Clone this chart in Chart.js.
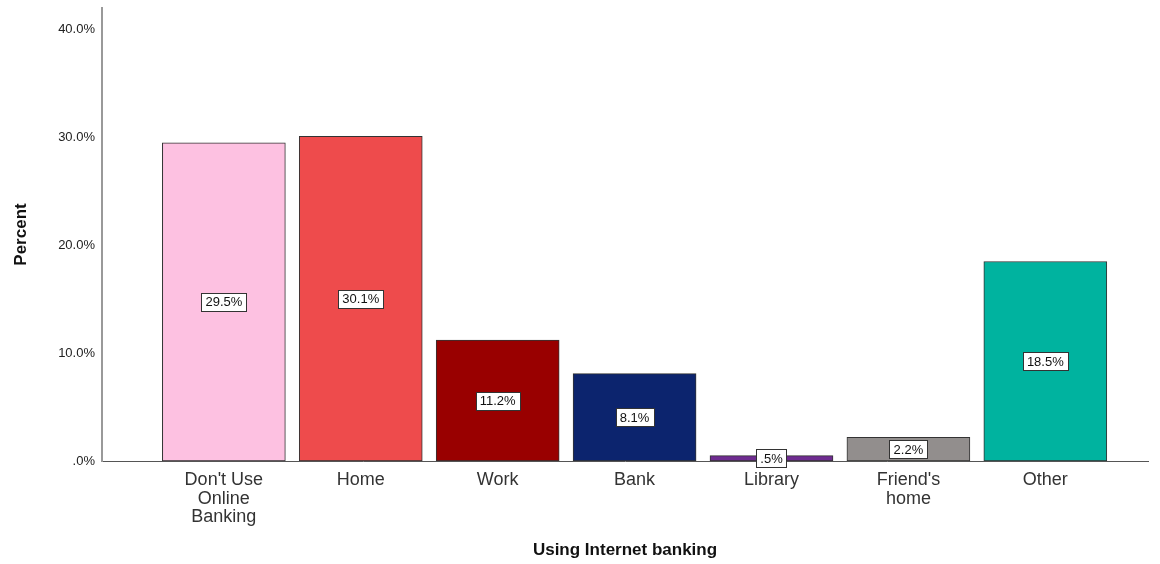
<!DOCTYPE html>
<html lang="en">
<head>
    <meta charset="UTF-8">
    <title>Using Internet banking</title>
    <style>
        body {
            margin: 0;
            background-color: #ffffff;
        }

        #chart-wrap {
            width: 1160px;
            height: 564px;
        }
    </style>
</head>
<body>
    <div id="chart-wrap">
        <canvas id="bank-chart" width="1160" height="564"></canvas>
    </div>

    <script src="https://cdn.jsdelivr.net/npm/chart.js"></script>
    <script>
        const categories = [
            ["Don't Use", 'Online', 'Banking'],
            ['Home'],
            ['Work'],
            ['Bank'],
            ['Library'],
            ["Friend's", 'home'],
            ['Other']
        ];
        const percents = [29.5, 30.1, 11.2, 8.1, 0.5, 2.2, 18.5];
        const barColors = ['#fdc1e1', '#ee4b4c', '#990000', '#0c246e', '#6f2c91', '#928e8d', '#00b39f'];
        const yTicks = [0, 10, 20, 30, 40];

        const fontFamily = '"Liberation Sans", Arial, sans-serif';

        function pctText(v) {
            // SPSS style: drop the leading zero
            let s = v.toFixed(1) + '%';
            if (s.startsWith('0.')) s = s.slice(1);
            return s;
        }

        // white boxed value labels in the middle of each bar
        const valueLabels = {
            id: 'valueLabels',
            afterDatasetsDraw(chart) {
                const ctx = chart.ctx;
                const meta = chart.getDatasetMeta(0);
                ctx.save();
                ctx.font = '13px ' + fontFamily;
                ctx.textAlign = 'center';
                ctx.textBaseline = 'middle';
                meta.data.forEach((bar, i) => {
                    const text = pctText(percents[i]);
                    const cx = bar.x;
                    const cy = (bar.y + bar.base) / 2;
                    const w = Math.round(ctx.measureText(text).width + 8);
                    const h = 18;
                    const bx = Math.round(cx - w / 2);
                    const by = Math.round(cy - h / 2);
                    ctx.fillStyle = '#ffffff';
                    ctx.fillRect(bx, by, w, h);
                    ctx.strokeStyle = '#333333';
                    ctx.lineWidth = 1;
                    ctx.strokeRect(bx + 0.5, by + 0.5, w, h);
                    ctx.fillStyle = '#111111';
                    ctx.fillText(text, cx, cy + 1);
                });
                ctx.restore();
            }
        };

        const ctx = document.getElementById('bank-chart').getContext('2d');
        const chart = new Chart(ctx, {
            type: 'bar',
            data: {
                datasets: [{
                    data: percents.map((v, i) => ({ x: i + 1, y: v })),
                    backgroundColor: barColors,
                    borderColor: '#333333',
                    borderWidth: 1,
                    borderSkipped: false,
                    barThickness: 123
                }]
            },
            options: {
                responsive: false,
                animation: false,
                layout: {
                    padding: { top: 8, right: 12, left: 0, bottom: 0 }
                },
                plugins: {
                    legend: { display: false },
                    tooltip: { enabled: false }
                },
                scales: {
                    x: {
                        type: 'linear',
                        offset: false,
                        min: 0.11,
                        max: 7.75,
                        afterBuildTicks: s => { s.ticks = categories.map((_, i) => ({ value: i + 1 })); },
                        afterFit: s => { s.height = 103; },
                        grid: { display: false, drawTicks: false },
                        border: { display: true, color: '#555555', width: 1 },
                        ticks: {
                            autoSkip: false,
                            maxRotation: 0,
                            padding: 10,
                            color: '#333333',
                            font: { family: fontFamily, size: 18, lineHeight: 1.03 },
                            callback: v => categories[v - 1]
                        },
                        title: {
                            display: true,
                            text: 'Using Internet banking',
                            color: '#111111',
                            font: { family: fontFamily, size: 17, weight: 'bold' },
                            padding: { top: 0, bottom: 3 }
                        }
                    },
                    y: {
                        min: 0,
                        max: 42,
                        afterBuildTicks: s => { s.ticks = yTicks.map(v => ({ value: v })); },
                        afterFit: s => {
                            s.width = 102;
                            s.paddingTop = 0;
                            s.paddingBottom = 0;
                        },
                        grid: { display: false, drawTicks: false },
                        border: { display: true, color: '#999999', width: 2 },
                        ticks: {
                            padding: 7,
                            color: '#222222',
                            font: { family: fontFamily, size: 13 },
                            callback: v => pctText(v)
                        },
                        title: {
                            display: true,
                            text: 'Percent',
                            color: '#111111',
                            font: { family: fontFamily, size: 17, weight: 'bold' },
                            padding: { top: 11, bottom: 0 }
                        }
                    }
                }
            },
            plugins: [valueLabels]
        });
    </script>
</body>
</html>
